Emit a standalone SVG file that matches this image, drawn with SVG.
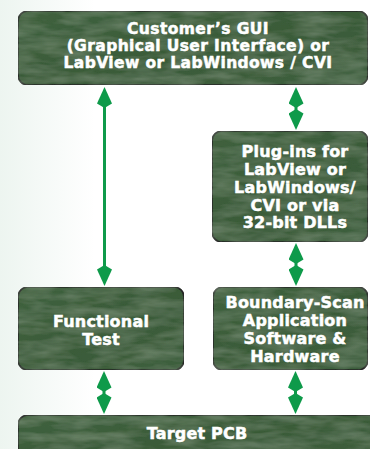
<svg xmlns="http://www.w3.org/2000/svg" width="370" height="449" viewBox="0 0 370 449">
<defs>
<linearGradient id="bg" x1="0" y1="0" x2="1" y2="0">
<stop offset="0" stop-color="#edf5f0"/>
<stop offset="1" stop-color="#ffffff"/>
</linearGradient>
<linearGradient id="boxfill" x1="0" y1="0" x2="1" y2="1">
<stop offset="0" stop-color="#40623e"/>
<stop offset="0.5" stop-color="#3a5b39"/>
<stop offset="1" stop-color="#3e5f3d"/>
</linearGradient>
<filter id="tex" x="0" y="0" width="1" height="1">
<feTurbulence type="fractalNoise" baseFrequency="0.03 0.12" numOctaves="3" seed="4" result="n"/>
<feColorMatrix in="n" type="matrix" values="0 0 0 0 0.45  0 0 0 0 0.58  0 0 0 0 0.43  0 0 0 0.38 -0.12" result="c"/>
<feComposite in="c" in2="SourceGraphic" operator="in" result="t"/>
<feMerge><feMergeNode in="SourceGraphic"/><feMergeNode in="t"/></feMerge>
</filter>
<marker id="head" viewBox="0 0 21 15" refX="6" refY="7.5" markerWidth="21" markerHeight="15" markerUnits="userSpaceOnUse" orient="auto-start-reverse">
<path d="M21,7.5 L4.5,0 L0,7.5 L4.5,15 Z" fill="#0e9a4a"/>
</marker>
<style>
.box{fill:url(#boxfill);stroke:#262626;stroke-width:1.6;filter:url(#tex)}
.lbl{font-family:"DejaVu Sans","Liberation Sans",sans-serif;font-weight:bold;fill:#ffffff;stroke:#ffffff;stroke-width:0.5;text-anchor:middle;letter-spacing:0.2px}
.top{font-size:15.5px;letter-spacing:0.4px}
.conn{stroke:#0e9a4a;stroke-width:3;fill:none;marker-start:url(#head);marker-end:url(#head)}
</style>
</defs>
<rect x="0" y="0" width="370" height="449" fill="#ffffff"/>
<rect x="0" y="0" width="95" height="449" fill="url(#bg)"/>

<g id="connectors">
<line class="conn" x1="104.5" y1="102" x2="104.5" y2="271"/>
<line class="conn" x1="296" y1="102" x2="296" y2="115"/>
<line class="conn" x1="296" y1="258" x2="296" y2="271"/>
<line class="conn" x1="104" y1="386" x2="104" y2="399"/>
<line class="conn" x1="295.5" y1="386" x2="295.5" y2="399"/>
</g>

<g id="gui">
<rect class="box" x="18" y="11" width="350" height="74" rx="10"/>
<text class="lbl top" x="198" y="33.5">Customer’s GUI</text>
<text class="lbl top" x="198" y="50.5">(Graphical User Interface) or</text>
<text class="lbl top" x="198" y="67.5">LabView or LabWindows / CVI</text>
</g>

<g id="plugins">
<rect class="box" x="212" y="131" width="156" height="111" rx="10"/>
<text class="lbl" font-size="16" x="295" y="157">Plug-ins for</text>
<text class="lbl" font-size="16" x="295" y="175">LabView or</text>
<text class="lbl" font-size="16" x="295" y="193">LabWindows/</text>
<text class="lbl" font-size="16" x="295" y="210.5">CVI or via</text>
<text class="lbl" font-size="16" x="295" y="228">32-bit DLLs</text>
</g>

<g id="functional">
<rect class="box" x="18" y="287" width="166" height="83" rx="10"/>
<text class="lbl" font-size="16" x="101" y="327">Functional</text>
<text class="lbl" font-size="16" x="101" y="344.5">Test</text>
</g>

<g id="boundary">
<rect class="box" x="213" y="287" width="155" height="83" rx="10"/>
<text class="lbl" font-size="16" x="295" y="308">Boundary-Scan</text>
<text class="lbl" font-size="16" x="295" y="326">Application</text>
<text class="lbl" font-size="16" x="295" y="344">Software &amp;</text>
<text class="lbl" font-size="16" x="295" y="361.5">Hardware</text>
</g>

<g id="target">
<rect class="box" x="18" y="415" width="370" height="50" rx="10"/>
<text class="lbl" font-size="16" x="197" y="438.5">Target PCB</text>
</g>
</svg>
